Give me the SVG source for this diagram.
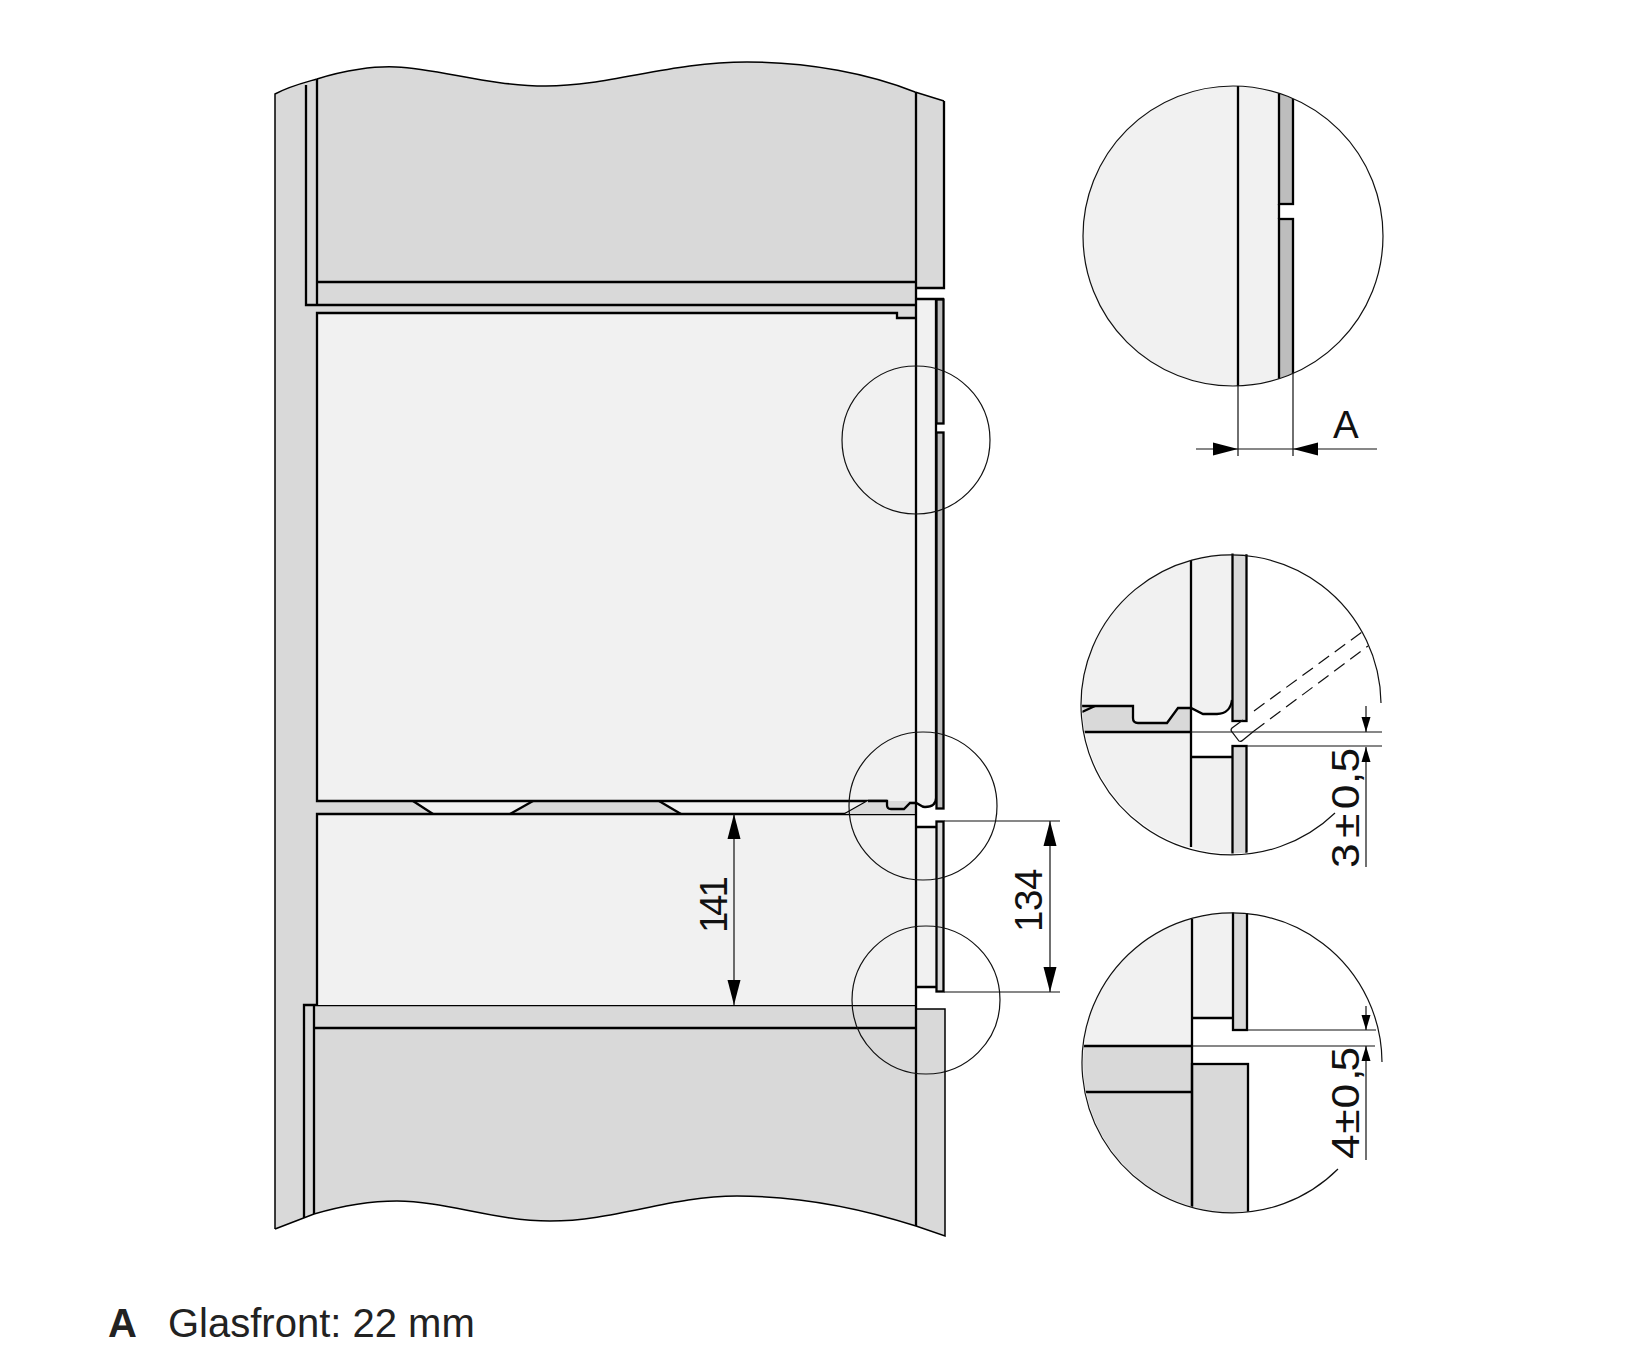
<svg xmlns="http://www.w3.org/2000/svg" width="1652" height="1358" viewBox="0 0 1652 1358">
<style>
.g{fill:#d9d9d9}.l{fill:#f1f1f1}.d{fill:#bdbdbd}
.s{stroke:#000;stroke-width:2.3;fill:none;stroke-linejoin:miter}
.m{stroke:#000;stroke-width:1.5;fill:none}
.t{stroke:#111;stroke-width:1.2;fill:none}
.gb{stroke:#000;stroke-width:2.3}
.c{stroke:#111;stroke-width:1.2;fill:none}
text{font-family:"Liberation Sans",Arial,sans-serif;font-size:38.5px;fill:#111}
.leg{font-size:40px;fill:#222}
</style>
<defs>
<marker id="big" markerUnits="userSpaceOnUse" markerWidth="25" markerHeight="14" refX="25" refY="7" orient="auto-start-reverse"><path d="M0 0.5L25 7L0 13.5Z" fill="#000"/></marker>
<marker id="sm" markerUnits="userSpaceOnUse" markerWidth="15" markerHeight="10" refX="15" refY="5" orient="auto-start-reverse"><path d="M0 0.5L15 5L0 9.5Z" fill="#000"/></marker>
<clipPath id="cp1"><circle cx="1233" cy="236" r="150"/></clipPath>
<clipPath id="cp2"><circle cx="1232" cy="703.5" r="150"/></clipPath>
<clipPath id="cp3"><circle cx="1233" cy="1062.5" r="150"/></clipPath>
</defs>
<rect width="1652" height="1358" fill="#fff"/>
<g id="cabinet">
<path class="g" d="M275 94C290 86 303 83 317 79C345 70 375 66 396 67C440 69 490 86 546 86C610 86 670 62 747 62C810 62 870 74 915 92L944 101V288H916V1009H945V1236L916 1226C860 1208 800 1196 737 1196C670 1196 615 1221 550 1221C495 1221 445 1201 397 1201C370 1201 345 1205 314 1214L275 1229Z"/>
<path class="m" d="M275 1229V94C290 86 303 83 317 79C345 70 375 66 396 67C440 69 490 86 546 86C610 86 670 62 747 62C810 62 870 74 915 92L944 101"/>
<path class="m" d="M275 1229L314 1214C345 1205 370 1201 397 1201C445 1201 495 1221 550 1221C615 1221 670 1196 737 1196C800 1196 860 1208 916 1226L945 1236V1009H916"/>
<path class="s" d="M944 101V288H916"/>
<path class="s" d="M306 85V305H916M317 79V305M317 282H916"/>
<path class="s" d="M304 1218V1005H916M314 1214V1005M314 1028H916"/>
</g>
<g id="oven">
<path class="l" d="M317 313H897V318H916V801H317Z"/>
</g>
<g id="slide">
<path class="l" d="M413 801H533L510 814H433Z"/>
<path class="l" d="M659 801H868L845 814H681Z"/>
<path class="s" d="M413 801L433 814M533 801L510 814M659 801L681 814M868 801L845 814"/>
</g>
<g id="oven-outline">
<path class="s" d="M916 318H897V313H317V801H887"/>
</g>
<g id="drawer">
<rect class="l" x="317" y="814" width="599" height="191"/>
<path class="s" d="M317 1005V814H916"/>
</g>
<g id="gasket">
<path class="g" d="M868 801H887V805Q887 809 891 809H904L910 803H916V814H845Z"/>
<path class="s" d="M868 801H887V805Q887 809 891 809H904L910 803H916"/>
</g>
<g id="door-top">
<path class="l" d="M916 299H936V798C936 803 933 807 925 807C921 807 918 803 916 803Z"/>
<path class="s" d="M916 299H944M916 803C918 803 921 807 925 807C933 807 936 803 936 798V299"/>
<rect class="d gb" x="936.5" y="299.5" width="7" height="124"/>
<rect class="d gb" x="936.5" y="432.5" width="7" height="376"/>
</g>
<g id="door-drawer">
<rect class="l" x="916" y="827" width="20" height="160"/>
<path class="s" d="M916 827H936M916 987H936"/>
<rect class="g gb" x="936.5" y="821.5" width="7" height="170"/>
</g>
<path id="front-line" class="s" d="M916 92V1226"/>
<g id="circles">
<circle class="c" cx="916" cy="440" r="74"/>
<circle class="c" cx="923" cy="806" r="74"/>
<circle class="c" cx="926" cy="1000" r="74"/>
</g>
<g id="detail-a">
<g clip-path="url(#cp1)">
<rect class="l" x="1083" y="86" width="196" height="300"/>
<rect class="d gb" x="1279" y="80" width="14" height="124"/>
<rect class="d gb" x="1279" y="219" width="14" height="170"/>
<path class="s" d="M1279 204V219"/>
</g>
<path class="s" d="M1238 86V386"/>
<circle class="c" cx="1233" cy="236" r="150"/>
<text x="1333" y="438">A</text>
</g>
<g id="detail-b">
<g clip-path="url(#cp2)">
<rect class="l" x="1082" y="554" width="109" height="300"/>
<path class="g" d="M1082 706H1133V718Q1133 723 1138 723H1167L1178 708H1191V732H1082Z"/>
<path class="l" d="M1191 554H1232V700C1231 708 1226 714 1217 714H1203L1191 708Z"/>
<path class="l" d="M1191 757H1232V860H1191Z"/>
<path class="s" d="M1082 706H1133V718Q1133 723 1138 723H1167L1178 708H1191L1203 714H1217C1226 714 1231 708 1232 700"/>
<path class="s" d="M1082 712L1095 706M1082 732H1191M1191 757H1232"/>
<rect class="g gb" x="1232.5" y="545" width="14" height="176"/>
<rect class="g gb" x="1232.5" y="746" width="14" height="115"/>
</g>
<path class="s" d="M1191 560V847"/>
<path class="t" d="M1243 720L1232 728Q1230 730 1232 732L1239 741Q1241 742 1243 740L1254 731"/>
<path class="t" stroke-dasharray="13 7" d="M1254 711L1362 632M1254 731L1368 646"/>
<path class="c" d="M1381 703A150 150 0 1 0 1335 813"/>
<text x="0 26 51 73 83" y="0" transform="translate(1359 868) rotate(-90) scale(1.15 1)">3±0,5</text>
</g>
<g id="detail-c">
<g clip-path="url(#cp3)">
<rect class="l" x="1083" y="913" width="108" height="133"/>
<rect class="l" x="1192" y="913" width="40" height="105"/>
<rect class="g" x="1083" y="1046" width="109" height="170"/>
<rect class="g gb" x="1192" y="1064" width="56" height="160"/>
<path class="s" d="M1192 1018H1233M1083 1046H1192M1083 1092H1192"/>
<rect class="g gb" x="1233" y="905" width="14" height="125"/>
</g>
<path class="s" d="M1192 919V1206"/>
<path class="c" d="M1382 1062A150 150 0 1 0 1338 1169"/>
<text x="0 22 44 68 76" y="0" transform="translate(1359 1159) rotate(-90) scale(1.15 1)">4±0,5</text>
</g>
<g id="connectors">
<line class="t" x1="734" y1="814" x2="734" y2="1005" marker-start="url(#big)" marker-end="url(#big)"/>
<path class="t" d="M944 821H1060M944 992H1060"/>
<line class="t" x1="1050" y1="821" x2="1050" y2="992" marker-start="url(#big)" marker-end="url(#big)"/>
<path class="t" d="M1238 386V456M1293 372V456M1238 449H1293"/>
<line class="t" x1="1196" y1="449" x2="1238" y2="449" marker-end="url(#big)"/>
<line class="t" x1="1377" y1="449" x2="1293" y2="449" marker-end="url(#big)"/>
<path class="t" d="M1191 732H1382M1247 746H1382"/>
<line class="t" x1="1366" y1="706" x2="1366" y2="732" marker-end="url(#sm)"/>
<line class="t" x1="1366" y1="867" x2="1366" y2="747" marker-end="url(#sm)"/>
<path class="t" d="M1192 1046H1375M1247 1030H1376"/>
<line class="t" x1="1366" y1="1006" x2="1366" y2="1030" marker-end="url(#sm)"/>
<line class="t" x1="1366" y1="1160" x2="1366" y2="1046" marker-end="url(#sm)"/>
</g>
<g id="labels">
<text x="0 17 35.5" y="0" transform="translate(727 933) rotate(-90)">141</text>
<text x="0 21 42" y="0" transform="translate(1042 932) rotate(-90)">134</text>
<text class="leg" x="108" y="1337" style="font-weight:700">A</text>
<text class="leg" x="168" y="1337">Glasfront: 22 mm</text>
</g>
</svg>
